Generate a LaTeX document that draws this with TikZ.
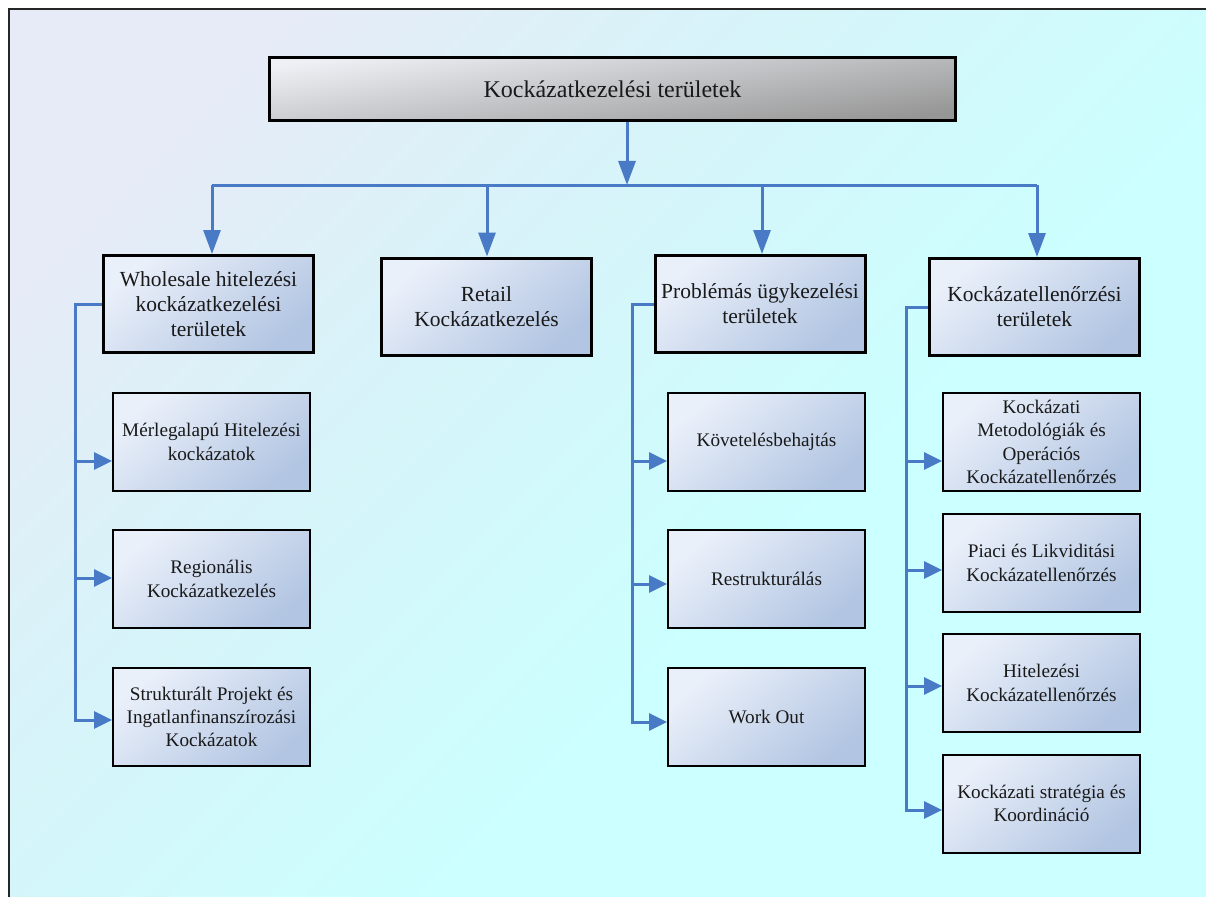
\documentclass[tikz,border=0pt]{standalone}
\usepackage{fontspec}
\setmainfont{Liberation Serif}
\usetikzlibrary{arrows.meta,calc}
\definecolor{conn}{RGB}{72,122,198}
\definecolor{bgA}{HTML}{E6EBF7}
\definecolor{bgM}{HTML}{D6F4F9}
\definecolor{bgB}{HTML}{CCFFFF}
\definecolor{boxA}{HTML}{EAF0FA}
\definecolor{boxB}{HTML}{B2C5E2}
\definecolor{topA}{HTML}{EEF0F5}
\definecolor{topB}{HTML}{969696}
\pgfdeclareverticalshading{bgshade}{100bp}{color(0bp)=(bgB); color(42bp)=(bgB); color(60bp)=(bgM); color(76bp)=(bgA); color(100bp)=(bgA)}
\begin{document}
\begin{tikzpicture}[x=1pt,y=-1pt,
  topbox/.style={draw=black, line width=3.5pt, top color=topA, bottom color=topB, shading angle=8,
    minimum width=686pt, minimum height=63pt, inner sep=2pt, text=black!90,
    font=\fontsize{24}{28}\selectfont},
  lvlbox/.style={draw=black, line width=3pt, top color=boxA, bottom color=boxB, shading angle=40,
    minimum width=210pt, minimum height=97pt, inner sep=2pt, align=center, text=black!90,
    font=\fontsize{21.5}{25}\selectfont},
  childbox/.style={draw=black, line width=2pt, top color=boxA, bottom color=boxB, shading angle=40,
    minimum width=197pt, minimum height=98pt, inner sep=1pt, align=center, text=black!90,
    font=\fontsize{19.2}{23.3}\selectfont},
  cline/.style={draw=conn, line width=3pt},
  darr/.style={cline, -{Triangle[length=24pt,width=17pt]}},
  sarr/.style={cline, -{Triangle[length=18pt,width=17pt]}}]
\useasboundingbox (0,0) rectangle (1206,896);
\fill[white] (-20,-20) rectangle (1240,930);
\shade[shading=bgshade, shading angle=45] (9,9) rectangle (1240,930);
\draw[line width=2pt, black!85] (9,9) rectangle (1240,930);

% top
\node[topbox] (top) at (612.5,89) {Kockázatkezelési területek};

% level 2
\node[lvlbox] (W) at (208.5,304) {Wholesale hitelezési\\kockázatkezelési\\területek};
\node[lvlbox] (R) at (486.5,306.5) {Retail\\Kockázatkezelés};
\node[lvlbox] (P) at (760,304) {Problémás ügykezelési\\területek};
\node[lvlbox] (K) at (1034.5,307) {Kockázatellenőrzési\\területek};

% children
\node[childbox] (W1) at (211.5,442) {Mérlegalapú Hitelezési\\kockázatok};
\node[childbox] (W2) at (211.5,579) {Regionális\\Kockázatkezelés};
\node[childbox] (W3) at (211.5,717) {Strukturált Projekt és\\Ingatlanfinanszírozási\\Kockázatok};

\node[childbox] (P1) at (766.5,442) {Követelésbehajtás};
\node[childbox] (P2) at (766.5,579) {Restrukturálás};
\node[childbox] (P3) at (766.5,717) {Work Out};

\node[childbox] (K1) at (1041.5,442) {Kockázati\\Metodológiák és\\Operációs\\Kockázatellenőrzés};
\node[childbox] (K2) at (1041.5,563) {Piaci és Likviditási\\Kockázatellenőrzés};
\node[childbox] (K3) at (1041.5,683) {Hitelezési\\Kockázatellenőrzés};
\node[childbox] (K4) at (1041.5,803.5) {Kockázati stratégia és\\Koordináció};

% top-level connectors
\coordinate (hub) at (627,185);
\coordinate (b1) at (212,185);
\coordinate (b2) at (487,185);
\coordinate (b3) at (762,185);
\coordinate (b4) at (1037,185);
\draw[cline] (b1) -- (b4);
\draw[darr] (hub |- top.south) -- (hub);
\draw[darr] (b1) -- (b1 |- W.north);
\draw[darr] (b2) -- (b2 |- R.north);
\draw[darr] (b3) -- (b3 |- P.north);
\draw[darr] (b4) -- (b4 |- K.north);

% left branch
\coordinate (wa1) at (75,461);
\coordinate (wa2) at (75,578);
\coordinate (wa3) at (75,720);
\draw[sarr] (W.west) -- (W.west -| wa3) -- (wa3) -- (W3.west |- wa3);
\draw[sarr] (wa1) -- (W1.west |- wa1);
\draw[sarr] (wa2) -- (W2.west |- wa2);

% middle branch
\coordinate (pa1) at (632,461);
\coordinate (pa2) at (632,584);
\coordinate (pa3) at (632,722);
\draw[sarr] (P.west) -- (P.west -| pa3) -- (pa3) -- (P3.west |- pa3);
\draw[sarr] (pa1) -- (P1.west |- pa1);
\draw[sarr] (pa2) -- (P2.west |- pa2);

% right branch
\coordinate (ka1) at (906,461);
\coordinate (ka2) at (906,570);
\coordinate (ka3) at (906,686);
\coordinate (ka4) at (906,810);
\draw[sarr] (K.west) -- (K.west -| ka4) -- (ka4) -- (K4.west |- ka4);
\draw[sarr] (ka1) -- (K1.west |- ka1);
\draw[sarr] (ka2) -- (K2.west |- ka2);
\draw[sarr] (ka3) -- (K3.west |- ka3);
\end{tikzpicture}
\end{document}
